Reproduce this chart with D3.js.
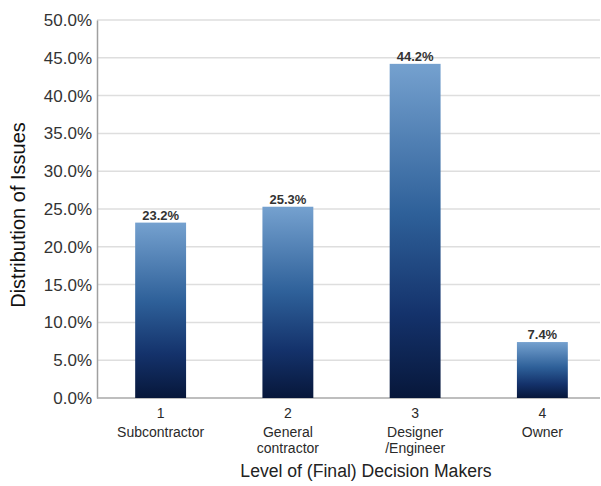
<!DOCTYPE html>
<html>
<head>
<meta charset="utf-8">
<script src="https://cdn.jsdelivr.net/npm/d3@7"></script>
<style>
  body { margin: 0; background: #fff; }
  svg { display: block; font-family: "Liberation Sans", Arial, sans-serif; }
</style>
</head>
<body>
<svg id="chart" width="601" height="486"></svg>
<script>
// Share of issues by level of final decision maker
const codes = ["1", "2", "3", "4"];
const roles = [["Subcontractor"], ["General", "contractor"], ["Designer", "/Engineer"], ["Owner"]];
const shares = [23.2, 25.3, 44.2, 7.4];
const yTicks = [0, 5, 10, 15, 20, 25, 30, 35, 40, 45, 50];

const svg = d3.select("#chart");
const plotLeft = 97, plotRight = 606, plotTop = 20, plotBottom = 398;

const x = d3.scaleBand().domain(codes).range([plotLeft, plotRight]).paddingInner(0.6).paddingOuter(0.3);
const y = d3.scaleLinear().domain([0, 50]).range([plotBottom, plotTop]);

// vertical blue gradient, light at the top of each bar, navy at its base
const defs = svg.append("defs");
const grad = defs.append("linearGradient").attr("id", "barFill")
  .attr("x1", 0).attr("y1", 0).attr("x2", 0).attr("y2", 1);
grad.append("stop").attr("offset", "0%").attr("stop-color", "#75a1cf");
grad.append("stop").attr("offset", "45%").attr("stop-color", "#2e6099");
grad.append("stop").attr("offset", "75%").attr("stop-color", "#14326b");
grad.append("stop").attr("offset", "100%").attr("stop-color", "#07173a");

// gridlines
svg.append("g")
  .selectAll("line").data(yTicks.filter(d => d > 0)).join("line")
  .attr("x1", plotLeft).attr("x2", 600)
  .attr("y1", d => y(d)).attr("y2", d => y(d))
  .attr("stroke", "#dedede").attr("stroke-width", 1.5);

// y axis
const yAxis = svg.append("g").attr("transform", `translate(${plotLeft},0)`)
  .call(d3.axisLeft(y).tickValues(yTicks).tickFormat(d => d.toFixed(1) + "%").tickSize(0).tickPadding(5));
yAxis.select(".domain").attr("stroke", "#a0a0a0").attr("stroke-width", 1.5);
yAxis.selectAll("text").attr("font-size", 17).attr("fill", "#333")
  .attr("font-family", "Liberation Sans, Arial, sans-serif");

// baseline
svg.append("line").attr("x1", plotLeft).attr("x2", 600).attr("y1", plotBottom).attr("y2", plotBottom)
  .attr("stroke", "#a8a8a8").attr("stroke-width", 1.5);

// bars
svg.append("g").selectAll("rect").data(codes).join("rect")
  .attr("x", d => x(d))
  .attr("y", (d, i) => y(shares[i]))
  .attr("width", x.bandwidth())
  .attr("height", (d, i) => plotBottom - y(shares[i]))
  .attr("fill", "url(#barFill)");

// value labels
svg.append("g").selectAll("text").data(codes).join("text")
  .attr("x", d => x(d) + x.bandwidth() / 2)
  .attr("y", (d, i) => y(shares[i]) - 3)
  .attr("text-anchor", "middle")
  .attr("font-size", 13).attr("font-weight", "bold").attr("fill", "#333")
  .text((d, i) => shares[i].toFixed(1) + "%");

// category labels
const cat = svg.append("g").selectAll("text").data(codes).join("text")
  .attr("text-anchor", "middle").attr("font-size", 14).attr("fill", "#2a2a2a")
  .attr("transform", d => `translate(${x(d) + x.bandwidth() / 2},0)`);
cat.append("tspan").attr("x", 0).attr("y", 418).text(d => d);
cat.each(function(d, i) {
  roles[i].forEach((line, j) => {
    d3.select(this).append("tspan").attr("x", 0).attr("y", 437 + j * 16).text(line);
  });
});

// axis titles
svg.append("text")
  .attr("transform", "translate(25,215) rotate(-90)")
  .attr("text-anchor", "middle").attr("font-size", 20).attr("fill", "#111")
  .text("Distribution of Issues");

svg.append("text")
  .attr("x", 366).attr("y", 477)
  .attr("text-anchor", "middle").attr("font-size", 17.6).attr("fill", "#222")
  .text("Level of (Final) Decision Makers");
</script>
</body>
</html>
